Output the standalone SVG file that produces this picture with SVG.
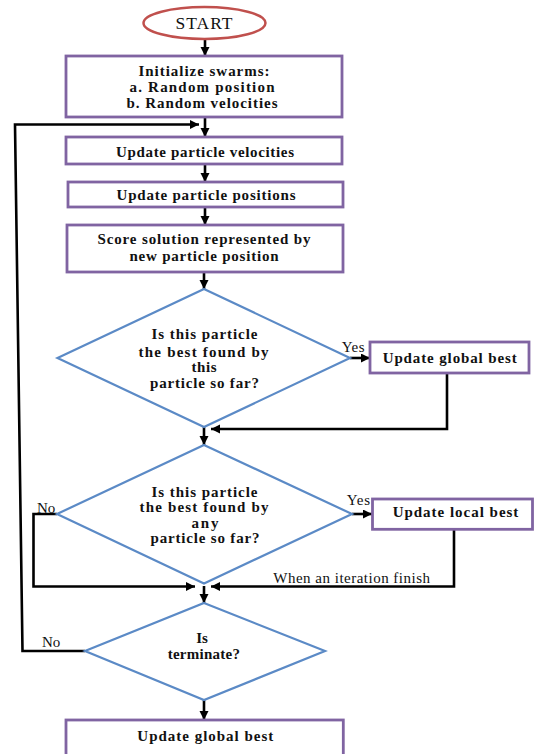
<svg xmlns="http://www.w3.org/2000/svg" width="534" height="754" viewBox="0 0 534 754">
<style>
.box{fill:#fff;stroke:#8064A2;stroke-width:2.8}
.dia{fill:#fff;stroke:#5B8AC6;stroke-width:2.2}
.term{fill:#fff;stroke:#C0504D;stroke-width:2.5}
.conn{fill:none;stroke:#000;stroke-width:2.6}
.b{font-family:"Liberation Serif","Times New Roman",serif;font-weight:bold;font-size:15px;fill:#111;text-anchor:middle}
.n{font-family:"Liberation Serif","Times New Roman",serif;font-size:15px;fill:#111}
.s{font-family:"Liberation Serif","Times New Roman",serif;font-size:17.5px;fill:#111;text-anchor:middle}
</style>
<defs>
<marker id="ah" markerUnits="userSpaceOnUse" markerWidth="10" markerHeight="10" refX="9" refY="4.5" orient="auto">
<path d="M0,0 L9,4.5 L0,9 z" fill="#000"/>
</marker>
</defs>
<rect width="534" height="754" fill="#fff"/>

<g id="connectors">
<path class="conn" d="M205,39 V56" marker-end="url(#ah)"/>
<path class="conn" d="M205,117 V137" marker-end="url(#ah)"/>
<path class="conn" d="M85,651 H22.5 L15,124.5 H199" marker-end="url(#ah)"/>
<path class="conn" d="M205,164 V182" marker-end="url(#ah)"/>
<path class="conn" d="M205,207 V225" marker-end="url(#ah)"/>
<path class="conn" d="M204,272 V289" marker-end="url(#ah)"/>
<path class="conn" d="M350,358 H370" marker-end="url(#ah)"/>
<path class="conn" d="M447,373 V429 H211" marker-end="url(#ah)"/>
<path class="conn" d="M204,427 V445" marker-end="url(#ah)"/>
<path class="conn" d="M352,514 H372" marker-end="url(#ah)"/>
<path class="conn" d="M57,514 H33.5 V586.5 H195" marker-end="url(#ah)"/>
<path class="conn" d="M454,529 V586.5 H211" marker-end="url(#ah)"/>
<path class="conn" d="M204,586 V603" marker-end="url(#ah)"/>
<path class="conn" d="M204,700 V720" marker-end="url(#ah)"/>
</g>

<g id="start">
<ellipse class="term" cx="204.5" cy="23" rx="61" ry="16"/>
<text class="s" x="204" y="28.5" textLength="57" lengthAdjust="spacing">START</text>
</g>

<g id="init">
<rect class="box" x="66" y="56" width="276" height="61"/>
<text class="b" x="204" y="76" textLength="131" lengthAdjust="spacing">Initialize swarms:</text>
<text class="b" x="202" y="91.5" textLength="145" lengthAdjust="spacing">a. Random position</text>
<text class="b" x="202" y="107.5" textLength="151" lengthAdjust="spacing">b. Random velocities</text>
</g>

<g id="velocities">
<rect class="box" x="66" y="137" width="276" height="27"/>
<text class="b" x="205" y="157" textLength="178" lengthAdjust="spacing">Update particle velocities</text>
</g>

<g id="positions">
<rect class="box" x="68" y="182" width="275" height="25"/>
<text class="b" x="206" y="199.5" textLength="179" lengthAdjust="spacing">Update particle positions</text>
</g>

<g id="score">
<rect class="box" x="67" y="225" width="276" height="47"/>
<text class="b" x="204" y="244" textLength="213" lengthAdjust="spacing">Score solution represented by</text>
<text class="b" x="204" y="260.5" textLength="149" lengthAdjust="spacing">new particle position</text>
</g>

<g id="decision1">
<polygon class="dia" points="204,289 350,358 204,427 57.5,358"/>
<text class="b" x="204.5" y="339.3" textLength="106" lengthAdjust="spacing">Is this particle</text>
<text class="b" x="203.5" y="356.7" textLength="130" lengthAdjust="spacing">the best found by</text>
<text class="b" x="204" y="372.3" textLength="25" lengthAdjust="spacing">this</text>
<text class="b" x="204.5" y="388.3" textLength="109" lengthAdjust="spacing">particle so far?</text>
<text class="n" x="341.7" y="351.7" textLength="23" lengthAdjust="spacing">Yes</text>
</g>

<g id="global-best-1">
<rect class="box" x="370" y="342" width="159" height="31"/>
<text class="b" x="449.7" y="362.7" textLength="134" lengthAdjust="spacing">Update global best</text>
</g>

<g id="decision2">
<polygon class="dia" points="204,445 352,514 204,583.5 57,514"/>
<text class="b" x="204.5" y="496.7" textLength="106" lengthAdjust="spacing">Is this particle</text>
<text class="b" x="204" y="512.3" textLength="129" lengthAdjust="spacing">the best found by</text>
<text class="b" x="205" y="527.8" textLength="27" lengthAdjust="spacing">any</text>
<text class="b" x="205" y="543.3" textLength="109" lengthAdjust="spacing">particle so far?</text>
<text class="n" x="37" y="512.7">No</text>
<text class="n" x="346.7" y="505" textLength="23.5" lengthAdjust="spacing">Yes</text>
<text class="n" x="273.3" y="582.7" textLength="156.7" lengthAdjust="spacing">When an iteration finish</text>
</g>

<g id="local-best">
<rect class="box" x="372.5" y="499" width="160" height="30.3"/>
<text class="b" x="455.5" y="517.3" textLength="125.7" lengthAdjust="spacing">Update local best</text>
</g>

<g id="decision3">
<polygon class="dia" points="204,603 325,651 204,700 85,651"/>
<text class="b" x="202" y="642.7">Is</text>
<text class="b" x="203.8" y="659" textLength="72.3" lengthAdjust="spacing">terminate?</text>
<text class="n" x="42" y="647.3">No</text>
</g>

<g id="final">
<rect class="box" x="66" y="720" width="277.3" height="45"/>
<text class="b" x="205.3" y="740.7" textLength="136" lengthAdjust="spacing">Update global best</text>
</g>
</svg>
